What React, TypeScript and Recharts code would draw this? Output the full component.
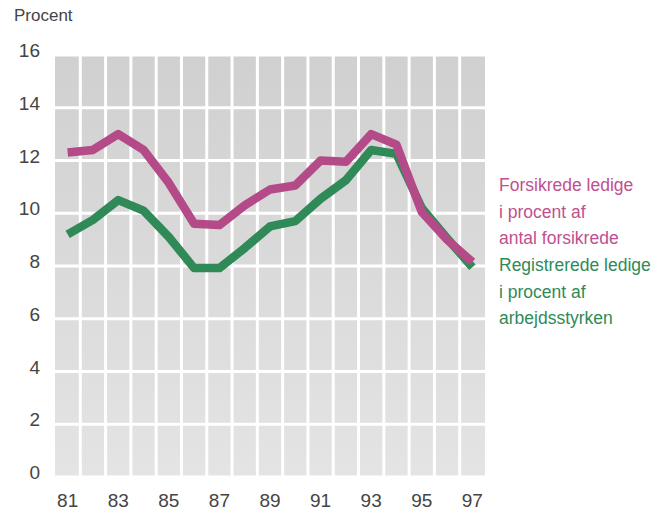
import React from "react";
import { LineChart, Line, XAxis, YAxis, CartesianGrid, ReferenceLine } from "recharts";

const years = [81, 82, 83, 84, 85, 86, 87, 88, 89, 90, 91, 92, 93, 94, 95, 96, 97];
const forsikrede = [12.3, 12.4, 13.0, 12.4, 11.15, 9.6, 9.55, 10.3, 10.9, 11.05, 12.0, 11.95, 13.0, 12.6, 10.05, 9.0, 8.15];
const registrerede = [9.2, 9.75, 10.5, 10.1, 9.1, 7.92, 7.92, 8.68, 9.5, 9.7, 10.55, 11.25, 12.4, 12.25, 10.2, 9.05, 7.95];
const xTicks = [81, 83, 85, 87, 89, 91, 93, 95, 97];
const yTicks = [0, 2, 4, 6, 8, 10, 12, 14, 16];
const gridYears = [81.5, 82.5, 83.5, 84.5, 85.5, 86.5, 87.5, 88.5, 89.5, 90.5, 91.5, 92.5, 93.5, 94.5, 95.5, 96.5];
const pinkLabel = ["Forsikrede ledige", "i procent af", "antal forsikrede"];
const greenLabel = ["Registrerede ledige", "i procent af", "arbejdsstyrken"];

const data = years.map((y, i) => ({ year: y, forsikrede: forsikrede[i], registrerede: registrerede[i] }));

const FONT = "'Liberation Sans', Arial, sans-serif";
const PINK = "#b44a87";
const GREEN = "#2f8a57";

const XTick = (props: any) => {
  const { x, y, payload } = props;
  return (
    <text x={x} y={y + 22} textAnchor="middle" fontFamily={FONT} fontSize={19} fill="#444">
      {payload.value}
    </text>
  );
};

const YTick = (props: any) => {
  const { y, payload } = props;
  return (
    <text x={40} y={y + 2} textAnchor="end" fontFamily={FONT} fontSize={19} fill="#444">
      {payload.value}
    </text>
  );
};

export default function App() {
  return (
    <div style={{ position: "absolute", left: 0, top: 0, width: 665, height: 514, background: "#fff" }}>
      <LineChart width={665} height={514} data={data} margin={{ top: 55, right: 180, bottom: 7, left: 0 }}>
        <defs>
          <linearGradient id="bg" x1="0" y1="0" x2="0" y2="1">
            <stop offset="0%" stopColor="#d0d0d0" />
            <stop offset="100%" stopColor="#e4e4e4" />
          </linearGradient>
        </defs>
        <CartesianGrid vertical={false} stroke="#ffffff" strokeWidth={3} fill="url(#bg)" fillOpacity={1} />
        {gridYears.map((g) => (
          <ReferenceLine key={g} x={g} stroke="#ffffff" strokeWidth={3} />
        ))}
        <XAxis
          dataKey="year"
          type="number"
          domain={[80.5, 97.5]}
          ticks={xTicks}
          axisLine={false}
          tickLine={false}
          height={30}
          tick={<XTick />}
          interval={0}
        />
        <YAxis
          type="number"
          domain={[0, 16]}
          ticks={yTicks}
          axisLine={false}
          tickLine={false}
          width={55}
          tick={<YTick />}
          interval={0}
        />
        <Line
          dataKey="registrerede"
          stroke={GREEN}
          strokeWidth={8.5}
          dot={false}
          strokeLinejoin="round"
          isAnimationActive={false}
        />
        <Line
          dataKey="forsikrede"
          stroke={PINK}
          strokeWidth={8.5}
          dot={false}
          strokeLinejoin="round"
          isAnimationActive={false}
        />
      </LineChart>
      <div style={{ position: "absolute", left: 14, top: 6, fontFamily: FONT, fontSize: 17, color: "#444" }}>Procent</div>
      <div style={{ position: "absolute", left: 499, top: 172, fontFamily: FONT, fontSize: 17.5, lineHeight: "26.5px", color: "#c0508f" }}>
        {pinkLabel.map((t) => (
          <div key={t}>{t}</div>
        ))}
      </div>
      <div style={{ position: "absolute", left: 499, top: 252, fontFamily: FONT, fontSize: 17.5, lineHeight: "26.5px", color: GREEN }}>
        {greenLabel.map((t) => (
          <div key={t}>{t}</div>
        ))}
      </div>
    </div>
  );
}
